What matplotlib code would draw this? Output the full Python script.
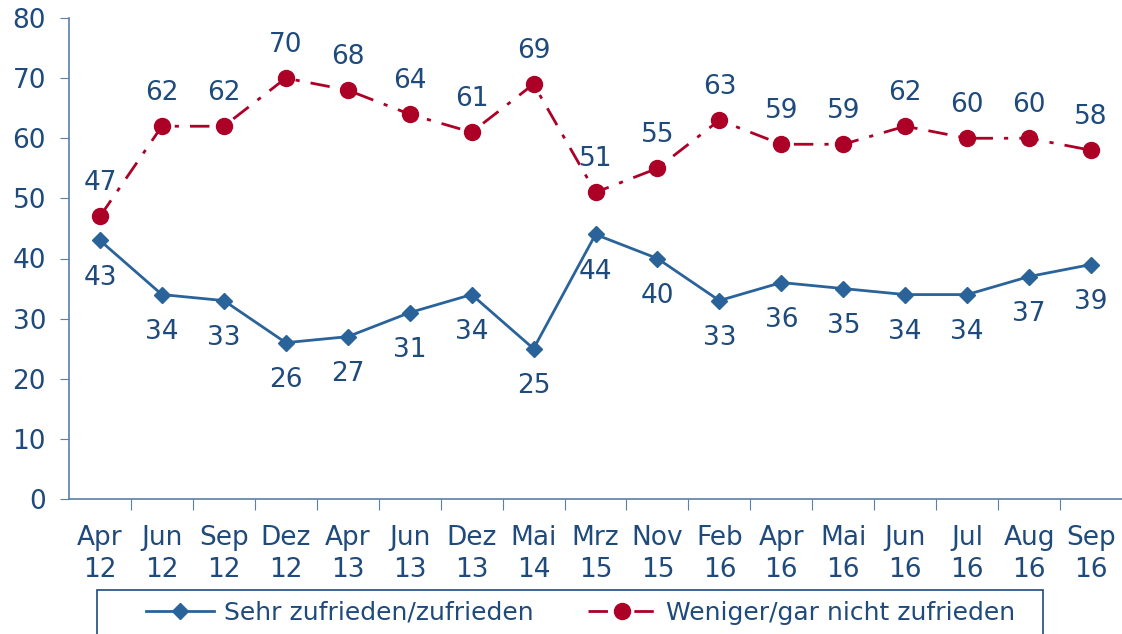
import matplotlib
matplotlib.use("Agg")
import matplotlib.pyplot as plt
from matplotlib.lines import Line2D
from matplotlib.patches import Rectangle

# data
monate = ["Apr", "Jun", "Sep", "Dez", "Apr", "Jun", "Dez", "Mai", "Mrz",
          "Nov", "Feb", "Apr", "Mai", "Jun", "Jul", "Aug", "Sep"]
jahre = ["12", "12", "12", "12", "13", "13", "13", "14", "15",
         "15", "16", "16", "16", "16", "16", "16", "16"]
zufrieden = [43, 34, 33, 26, 27, 31, 34, 25, 44, 40, 33, 36, 35, 34, 34, 37, 39]
unzufrieden = [47, 62, 62, 70, 68, 64, 61, 69, 51, 55, 63, 59, 59, 62, 60, 60, 58]

BLAU = "#2a6399"
ROT = "#ad0027"
TEXT = "#1f4a7c"
ACHSE = "#5b7fa6"
FS = 19

plt.rcParams['font.family'] = ['DejaVu Sans']

W, H = 1122, 634
fig = plt.figure(figsize=(W / 100, H / 100), dpi=100)
ax = fig.add_axes([69 / W, 135 / H, 1053 / W, 481 / H])

x = list(range(len(monate)))
ax.plot(x, zufrieden, color=BLAU, lw=2, marker="D", ms=8, zorder=3)
ax.plot(x, unzufrieden, color=ROT, lw=2, marker="o", ms=11.5,
        dashes=(7, 4, 1.5, 4), zorder=3)

# Datenbeschriftungen
for i, v in enumerate(zufrieden):
    ax.annotate(str(v), (i, v), xytext=(0, -27), textcoords="offset points",
                ha="center", va="center", fontsize=FS, color=TEXT)
for i, v in enumerate(unzufrieden):
    ax.annotate(str(v), (i, v), xytext=(0, 24), textcoords="offset points",
                ha="center", va="center", fontsize=FS, color=TEXT)

ax.set_xlim(-0.5, len(monate) - 0.5)
ax.set_ylim(0, 80)
ax.set_yticks(range(0, 81, 10))
ax.tick_params(axis="y", labelsize=FS, labelcolor=TEXT, color=ACHSE,
               length=6.5, direction="out", pad=10)

# Striche zwischen den Kategorien, Beschriftung in der Mitte
ax.set_xticks([i - 0.5 for i in range(1, len(monate))])
ax.set_xticklabels([])
ax.set_xticks(x, [m + "\n" + j for m, j in zip(monate, jahre)], minor=True)
ax.tick_params(axis="x", which="major", color=ACHSE, length=8, direction="out")
ax.tick_params(axis="x", which="minor", length=0, labelsize=FS,
               labelcolor=TEXT, pad=19)
for lbl in ax.get_xticklabels(minor=True):
    lbl.set_linespacing(1.3)

for s in ["top", "right"]:
    ax.spines[s].set_visible(False)
for s in ["left", "bottom"]:
    ax.spines[s].set_color(ACHSE)
    ax.spines[s].set_linewidth(1.2)

# Legende
griffe = [Line2D([], [], color=BLAU, lw=2, marker="D", ms=8),
          Line2D([], [], color=ROT, lw=2, marker="o", ms=11.5, dashes=(7, 4, 1.5, 4))]
leg = fig.legend(griffe, ["Sehr zufrieden/zufrieden", "Weniger/gar nicht zufrieden"],
                 loc="center left", bbox_to_anchor=(146 / W, 1 - 613 / H),
                 ncol=2, fontsize=18, frameon=False, borderpad=0, borderaxespad=0,
                 handlelength=2.7, handletextpad=0.4, columnspacing=2.2,
                 labelcolor=TEXT)
fig.patches.append(Rectangle((97 / W, -0.05), (1043 - 97) / W, 0.05 + 44 / H,
                             transform=fig.transFigure, fill=False,
                             edgecolor=TEXT, lw=1.2))

fig.savefig("out.png", dpi=100)
